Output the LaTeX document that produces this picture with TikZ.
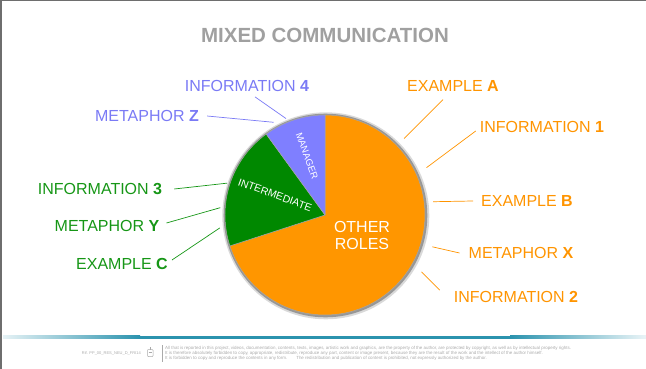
\documentclass[tikz,border=0pt]{standalone}
\usepackage{fontspec}
\setmainfont{Liberation Sans}
\usetikzlibrary{calc}

\definecolor{pieorange}{RGB}{255,150,0}
\definecolor{piegreen}{RGB}{0,136,0}
\definecolor{pieblue}{RGB}{127,127,255}
\definecolor{txtorange}{RGB}{255,148,0}
\definecolor{txtgreen}{RGB}{22,150,22}
\definecolor{txtblue}{RGB}{122,122,245}
\definecolor{titlegray}{RGB}{160,160,160}
\definecolor{barteal}{RGB}{43,147,174}
\definecolor{footgray}{RGB}{170,170,170}
\definecolor{framegray}{RGB}{110,110,110}

\tikzset{
  lbl/.style={font=\fontsize{16}{18}\selectfont, inner sep=2pt},
  lblorange/.style={lbl, text=txtorange},
  lblgreen/.style={lbl, text=txtgreen},
  lblblue/.style={lbl, text=txtblue},
  leadorange/.style={draw=txtorange, line width=.7pt},
  leadgreen/.style={draw=txtgreen, line width=.7pt},
  leadblue/.style={draw=txtblue, line width=.7pt},
  slicetxt/.style={text=white, inner sep=0pt},
  slice/.style={draw=black!35, line width=.5pt, line join=round}
}

\begin{document}
\begin{tikzpicture}[x=1pt,y=1pt]
        \useasboundingbox (0,0) rectangle (646,-369);
        % frame
        \draw[framegray, line width=1.5pt] (646,-0.75) -- (0.75,-0.75) -- (0.75,-369);
        \node[font=\bfseries\fontsize{20.5}{24}\selectfont, text=titlegray] (title) at (325,-35.5) {MIXED COMMUNICATION};
        %
        % pie
        \coordinate (c) at (325,-215);
        \fill[black, opacity=.15] ($(c)+(.8,-.8)$) circle (103.5pt);
        \fill[black, opacity=.3] ($(c)+(.5,-.5)$) circle (101.8pt);
        \fill[pieorange, slice] (c) -- ++(90:100pt) arc[start angle=90, end angle=-162, radius=100pt] -- cycle;
        \fill[piegreen, slice] (c) -- ++(126:100pt) arc[start angle=126, end angle=198, radius=100pt] -- cycle;
        \fill[pieblue, slice] (c) -- ++(90:100pt) arc[start angle=90, end angle=126, radius=100pt] -- cycle;
        \node[slicetxt, font=\fontsize{16}{17}\selectfont, align=center] (others) at (362,-235) {OTHER\\ROLES};
        \node[slicetxt, font=\fontsize{10.5}{12}\selectfont, rotate=-20] (interm) at (275,-195) {INTERMEDIATE};
        \node[slicetxt, font=\fontsize{9.5}{11}\selectfont, rotate=-70] (manager) at (307,-156) {MANAGER};
        %
        % labels left
        \node[lblblue] (i4) at (247,-86) {INFORMATION \textbf{4}};
        \node[lblblue] (mz) at (147,-116) {METAPHOR \textbf{Z}};
        \node[lblgreen] (i3) at (100,-189) {INFORMATION \textbf{3}};
        \node[lblgreen] (my) at (107,-226) {METAPHOR \textbf{Y}};
        \node[lblgreen] (ec) at (122,-264) {EXAMPLE \textbf{C}};
        % labels right
        \node[lblorange] (ea) at (453,-86) {EXAMPLE \textbf{A}};
        \node[lblorange] (i1) at (542,-127) {INFORMATION \textbf{1}};
        \node[lblorange] (eb) at (527,-201) {EXAMPLE \textbf{B}};
        \node[lblorange] (mx) at (521,-253) {METAPHOR \textbf{X}};
        \node[lblorange] (i2) at (516,-297) {INFORMATION \textbf{2}};
        %
        % free ends near the pie
        \coordinate (i4-p) at ($(c)+(112:104pt)$);
        \coordinate (mz-p) at ($(c)+(119:106pt)$);
        \coordinate (i3-p) at ($(c)+(162:103pt)$);
        \coordinate (my-p) at ($(c)+(176:105pt)$);
        \coordinate (ec-p) at ($(c)+(187:106pt)$);
        \coordinate (ea-p) at ($(c)+(44:110pt)$);
        \coordinate (i1-p) at ($(c)+(25:112pt)$);
        \coordinate (eb-p) at ($(c)+(7:109pt)$);
        \coordinate (mx-p) at ($(c)+(-16.5:112pt)$);
        \coordinate (i2-p) at ($(c)+(-30.5:112pt)$);
        %
        \draw[leadblue] ([xshift=8pt,yshift=-3pt]i4.south) -- (i4-p);
        \draw[leadblue] ([xshift=6pt]mz.east) -- (mz-p);
        \draw[leadgreen] ([xshift=10pt]i3.east) -- (i3-p);
        \draw[leadgreen] ([xshift=5pt,yshift=3pt]my.east) -- (my-p);
        \draw[leadgreen] ([xshift=2pt,yshift=4pt]ec.east) -- (ec-p);
        \draw[leadorange] ([xshift=-10pt,yshift=-6pt]ea.south) -- (ea-p);
        \draw[leadorange] ([xshift=-2pt,yshift=-4pt]i1.west) -- (i1-p);
        \draw[leadorange] ([xshift=-6pt]eb.west) -- (eb-p);
        \draw[leadorange] ([xshift=-7pt]mx.west) -- (mx-p);
        \draw[leadorange] ([xshift=-12pt,yshift=-1pt]i2.north west) -- (i2-p);
        %
        % footer
        \shade[left color=barteal!12, right color=barteal] (3,-335.5) rectangle (140,-338.5);
        \fill[barteal] (140,-335.5) rectangle (510,-338.5);
        \shade[left color=barteal, right color=barteal!10] (510,-335.5) rectangle (646,-338.5);
        \node[font=\fontsize{4}{4.6}\selectfont, text=footgray, anchor=east, inner sep=0pt] (ref) at (141,-353) {Rif. PP\_00\_RES\_NEU\_D\_FRI14};
        \draw[footgray, line width=.5pt, rounded corners=.8pt] (147.5,-349.5) rectangle (153,-356.5);
        \draw[footgray, line width=.5pt] (150.25,-349.5) -- (150.25,-347) (148.5,-352.5) -- (152,-352.5);
        \draw[footgray, line width=.5pt] (162,-345) -- (162,-361.5);
        \node[font=\fontsize{4.45}{4.65}\selectfont, text=footgray, anchor=north west, inner sep=0pt, align=left] (legal) at (165,-346.3) {All that is reported in this project, videos, documentation, contents, texts, images, artistic work and graphics, are the property of the author, are protected by copyright, as well as by intellectual property rights.\\It is therefore absolutely forbidden to copy, appropriate, redistribute, reproduce any part, content or image present, because they are the result of the work and the intellect of the author himself.\\It is forbidden to copy and reproduce the contents in any form.\quad\quad The redistribution and publication of content is prohibited, not expressly authorized by the author.};
\end{tikzpicture}
\end{document}
